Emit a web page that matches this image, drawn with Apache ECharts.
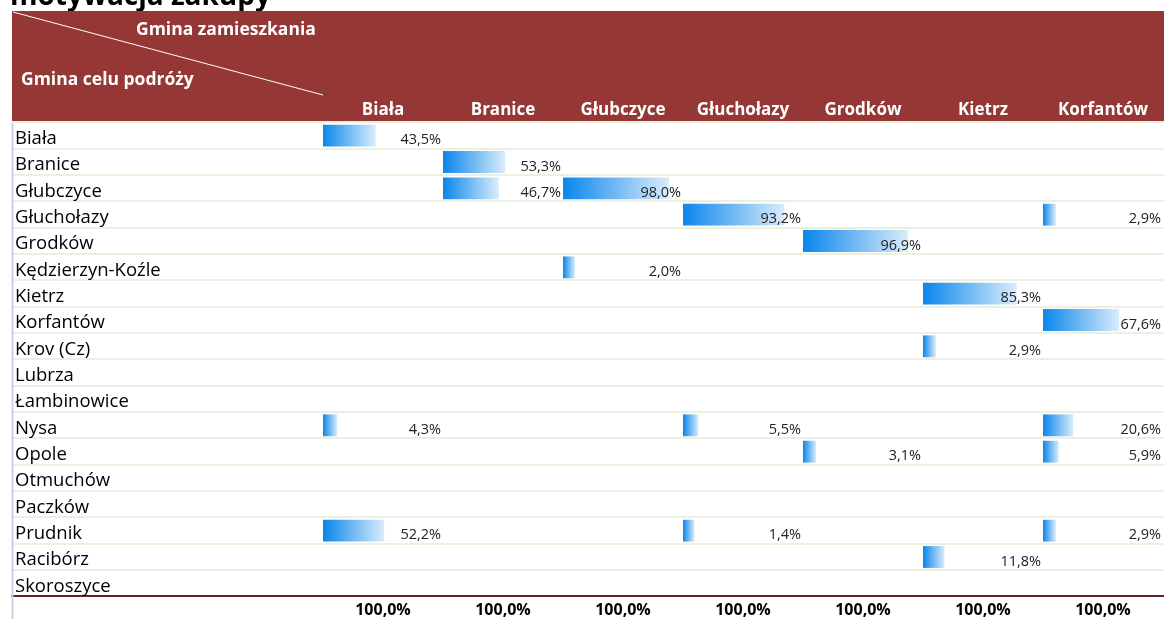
<!DOCTYPE html>
<html><head><meta charset="utf-8">
<script src="https://cdn.jsdelivr.net/npm/echarts@6/dist/echarts.min.js"></script>
<style>html,body{margin:0;padding:0;background:#fff}#c{width:1164px;height:619px}</style>
</head><body><div id="c"></div>
<script>
// ---- data ----
const title = 'motywacja zakupy';
const cornerTop = 'Gmina zamieszkania';
const cornerBottom = 'Gmina celu podróży';
const destinations = ['Biała','Branice','Głubczyce','Głuchołazy','Grodków','Kędzierzyn-Koźle','Kietrz','Korfantów','Krov (Cz)','Lubrza','Łambinowice','Nysa','Opole','Otmuchów','Paczków','Prudnik','Racibórz','Skoroszyce'];
const residences = ['Biała','Branice','Głubczyce','Głuchołazy','Grodków','Kietrz','Korfantów'];
const totals = ['100,0%','100,0%','100,0%','100,0%','100,0%','100,0%','100,0%'];
const biala      = [['Biała',43.5],['Nysa',4.3],['Prudnik',52.2]];
const branice    = [['Branice',53.3],['Głubczyce',46.7]];
const glubczyce  = [['Głubczyce',98.0],['Kędzierzyn-Koźle',2.0]];
const glucholazy = [['Głuchołazy',93.2],['Nysa',5.5],['Prudnik',1.4]];
const grodkow    = [['Grodków',96.9],['Opole',3.1]];
const kietrz     = [['Kietrz',85.3],['Krov (Cz)',2.9],['Racibórz',11.8]];
const korfantow  = [['Głuchołazy',2.9],['Korfantów',67.6],['Nysa',20.6],['Opole',5.9],['Prudnik',2.9]];
const columns = [biala, branice, glubczyce, glucholazy, grodkow, kietrz, korfantow];

// ---- build ----
const COL = 120, MINLEN = 10, K = 0.98;
const cells = [];
columns.forEach((col, ci) => col.forEach(([d, v]) => cells.push([ci, destinations.indexOf(d), v])));
const FONT = '"Open Sans", sans-serif';
const fmt = v => v.toFixed(1).replace('.', ',') + '%';

const chart = echarts.init(document.getElementById('c'), null, {renderer:'canvas'});
chart.setOption({
  animation: false,
  backgroundColor: '#fff',
  grid: [
    {left: 12, right: 0, top: 122, height: 474},
    {left: 323, width: 840, top: 122, height: 474}
  ],
  xAxis: [
    {gridIndex: 0, type: 'value', min: 0, max: 1, axisLine: {show: true, lineStyle: {color: '#632523', width: 2}},
     axisTick: {show: false}, axisLabel: {show: false}, splitLine: {show: false}},
    {gridIndex: 1, type: 'value', min: 0, max: COL * residences.length, show: false},
    {gridIndex: 1, type: 'category', position: 'top', data: residences,
     axisLine: {show: false}, axisTick: {show: false}, splitLine: {show: false},
     axisLabel: {color: '#fff', fontWeight: 'bold', fontSize: 17, fontFamily: FONT, margin: 12, verticalAlign: 'middle', interval: 0}},
    {gridIndex: 1, type: 'category', position: 'bottom', data: totals,
     axisLine: {show: false}, axisTick: {show: false}, splitLine: {show: false},
     axisLabel: {color: '#000', fontWeight: 'bold', fontSize: 16, fontFamily: FONT, margin: 14, verticalAlign: 'middle', interval: 0}}
  ],
  yAxis: [
    {gridIndex: 0, type: 'category', inverse: true, data: destinations,
     axisLine: {show: false}, axisTick: {show: false}, axisLabel: {show: false},
     splitLine: {show: true, interval: 0, lineStyle: {color: '#EBF1DE', width: 2}}},
    {gridIndex: 1, type: 'category', inverse: true, data: destinations,
     axisLine: {show: false}, axisTick: {show: false}, splitLine: {show: false},
     axisLabel: {align: 'left', margin: 308, interval: 0,
       formatter: v => '{r|' + v + '}',
       rich: {r: {color: '#000', fontSize: 18.5, fontFamily: FONT, padding: [7, 0, 0, 0]}}}}
  ],
  graphic: [
    {type: 'text', z: -20, left: 10, top: -17, style: {text: title, font: 'bold 28px ' + FONT, fill: '#000'}},
    {type: 'rect', z: -10, shape: {x: 12, y: 11, width: 1152, height: 111}, style: {fill: '#953735'}},
    {type: 'line', z: 5, shape: {x1: 13, y1: 12, x2: 323, y2: 95}, style: {stroke: '#fff', lineWidth: 1}},
    {type: 'text', z: 5, x: 136, y: 30, style: {text: cornerTop, font: 'bold 17.5px ' + FONT, fill: '#fff', verticalAlign: 'middle'}},
    {type: 'text', z: 5, x: 21, y: 80, style: {text: cornerBottom, font: 'bold 17.5px ' + FONT, fill: '#fff', verticalAlign: 'middle'}},
    {type: 'line', z: 5, shape: {x1: 12.5, y1: 123, x2: 12.5, y2: 619}, style: {stroke: '#C6D4E6', lineWidth: 2}}
  ],
  series: [{
    type: 'custom',
    xAxisIndex: 1, yAxisIndex: 1,
    data: cells,
    renderItem: function (params, api) {
      const ci = api.value(0), ri = api.value(1), v = api.value(2);
      const p0 = api.coord([ci * COL, ri]);
      const p1 = api.coord([ci * COL + MINLEN + K * v, ri]);
      const pe = api.coord([(ci + 1) * COL, ri]);
      const h = api.size([0, 1])[1];
      const bh = h - 4.5;
      return {type: 'group', children: [
        {type: 'rect', shape: {x: p0[0], y: p0[1] - bh / 2 + 0.5, width: p1[0] - p0[0], height: bh},
         style: {fill: new echarts.graphic.LinearGradient(0, 0, 1, 0, [{offset: 0, color: '#0A86EC'}, {offset: 1, color: '#DAECFC'}])}},
        {type: 'text', x: pe[0] - 2, y: p0[1] + 5,
         style: {text: fmt(v), align: 'right', verticalAlign: 'middle', font: '14.5px ' + FONT, fill: '#222'}}
      ]};
    }
  }]
});
</script></body></html>
